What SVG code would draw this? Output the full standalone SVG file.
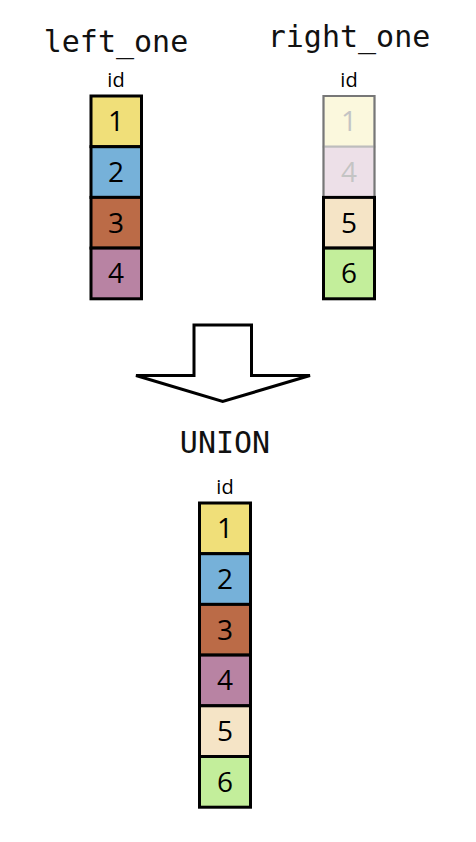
<svg xmlns="http://www.w3.org/2000/svg" width="476" height="842" viewBox="0 0 476 842">
<style>
.title{font-family:"DejaVu Sans Mono",monospace;font-size:30px;fill:#111;text-anchor:middle}
.hdr{font-family:"Open Sans","Liberation Sans",sans-serif;font-size:20px;fill:#000;text-anchor:middle}
.num{font-family:"Open Sans","Liberation Sans",sans-serif;font-size:28px;fill:#000;text-anchor:middle}
.faded{fill:#c4c4c4}
.cell{stroke:#000;stroke-width:3}
.fcell{stroke:#bdbdbd;stroke-width:2}
</style>
<rect width="476" height="842" fill="#fff"/>
<g id="left_one">
<text class="title" x="116" y="52">left_one</text>
<text class="hdr" x="116" y="87">id</text>
<rect class="cell" x="91" y="96" width="50.5" height="50.7" fill="#f0df79"/>
<rect class="cell" x="91" y="146.7" width="50.5" height="50.7" fill="#76b1d9"/>
<rect class="cell" x="91" y="197.4" width="50.5" height="50.7" fill="#bb6b47"/>
<rect class="cell" x="91" y="248.1" width="50.5" height="50.7" fill="#b883a3"/>
<text class="num" x="116" y="131">1</text>
<text class="num" x="116" y="182">2</text>
<text class="num" x="116" y="233">3</text>
<text class="num" x="116" y="283">4</text>
</g>
<g id="right_one">
<text class="title" x="349" y="47">right_one</text>
<text class="hdr" x="349" y="87">id</text>
<rect class="fcell" x="323.5" y="96" width="51" height="50.7" fill="#fbf8dd"/>
<rect class="fcell" x="323.5" y="146.7" width="51" height="50.7" fill="#ede0e8"/>
<path d="M323.5 197.4V96H374.5V197.4" fill="none" stroke="#777" stroke-width="2"/>
<rect class="cell" x="323.5" y="197.4" width="51" height="50.7" fill="#f5e4c6"/>
<rect class="cell" x="323.5" y="248.1" width="51" height="50.7" fill="#c3ee9b"/>
<text class="num faded" x="349" y="131">1</text>
<text class="num faded" x="349" y="182">4</text>
<text class="num" x="349" y="233">5</text>
<text class="num" x="349" y="283">6</text>
</g>
<g id="arrow">
<path d="M194 325H251.5V375.5H310L222.7 401.5L136 375.5H194Z" fill="#fff" stroke="#000" stroke-width="3" stroke-linejoin="miter"/>
</g>
<g id="union">
<text class="title" x="225" y="453">UNION</text>
<text class="hdr" x="225" y="494">id</text>
<rect class="cell" x="199.5" y="503" width="51" height="50.7" fill="#f0df79"/>
<rect class="cell" x="199.5" y="553.7" width="51" height="50.7" fill="#76b1d9"/>
<rect class="cell" x="199.5" y="604.4" width="51" height="50.7" fill="#bb6b47"/>
<rect class="cell" x="199.5" y="655.1" width="51" height="50.7" fill="#b883a3"/>
<rect class="cell" x="199.5" y="705.8" width="51" height="50.7" fill="#f5e4c6"/>
<rect class="cell" x="199.5" y="756.5" width="51" height="50.7" fill="#c3ee9b"/>
<text class="num" x="225" y="538">1</text>
<text class="num" x="225" y="589">2</text>
<text class="num" x="225" y="640">3</text>
<text class="num" x="225" y="690">4</text>
<text class="num" x="225" y="741">5</text>
<text class="num" x="225" y="792">6</text>
</g>
</svg>
